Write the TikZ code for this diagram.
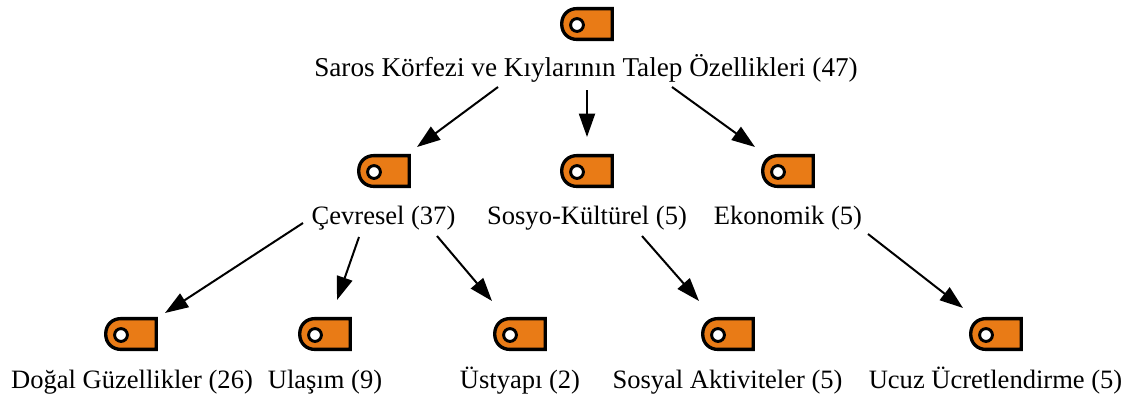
\documentclass[tikz,border=0pt]{standalone}
\usepackage{fontspec}
\setmainfont{Liberation Serif}
\usetikzlibrary{arrows.meta}
\definecolor{tagorange}{HTML}{E97B16}
\tikzset{
    label/.style={font=\fontsize{19.9}{22}\selectfont, inner sep=0pt, anchor=base},
    link/.style={line width=1.5pt, -{Triangle[length=17.5pt,width=12pt]}},
    tagicon/.pic={
        \draw[line width=2.5pt, fill=tagorange] (25.3,-15.4) -- (-10,-15.4)
            .. controls (-19,-15.4) and (-25.3,-9) .. (-25.3,0)
            .. controls (-25.3,9) and (-19,15.4) .. (-10,15.4)
            -- (25.3,15.4) -- cycle;
        \node[circle, draw, fill=white, line width=2.2pt, minimum size=9.6pt, inner sep=0pt] (-hole) at (-10,1) {};
    }
}
\begin{document}
\begin{tikzpicture}[x=0.75pt,y=-0.75pt]
    \useasboundingbox (0,0) rectangle (1131,401);

    \pic (root) at (587,24) {tagicon};
    \node[label, font=\fontsize{20.4}{22}\selectfont] (rootlabel) at (586,76) {Saros Körfezi ve Kıylarının Talep Özellikleri (47)};

    \pic (cevresel) at (384,171) {tagicon};
    \node[label] (cevresellabel) at (383.5,224) {Çevresel (37)};
    \pic (sosyo) at (587,171) {tagicon};
    \node[label] (sosyolabel) at (587,224) {Sosyo-Kültürel (5)};
    \pic (ekonomik) at (788,171) {tagicon};
    \node[label] (ekonomiklabel) at (788,224) {Ekonomik (5)};

    \pic (dogal) at (131,334) {tagicon};
    \node[label] (dogallabel) at (132,388) {Doğal Güzellikler (26)};
    \pic (ulasim) at (325,334) {tagicon};
    \node[label] (ulasimlabel) at (325,388) {Ulaşım (9)};
    \pic (ustyapi) at (520,334) {tagicon};
    \node[label] (ustyapilabel) at (520,388) {Üstyapı (2)};
    \pic (sosyal) at (728,334) {tagicon};
    \node[label] (sosyallabel) at (727.5,388) {Sosyal Aktiviteler (5)};
    \pic (ucuz) at (996,334) {tagicon};
    \node[label] (ucuzlabel) at (995.5,388) {Ucuz Ücretlendirme (5)};

    \draw[link] ([shift={(-88,11)}]rootlabel.base) -- ([shift={(43,-25)}]cevresel-hole.center);
    \draw[link] ([shift={(1,14)}]rootlabel.base) -- ([shift={(10,-35)}]sosyo-hole.center);
    \draw[link] ([shift={(86,11)}]rootlabel.base) -- ([shift={(-23,-25)}]ekonomik-hole.center);

    \draw[link] ([shift={(-80.5,-1)}]cevresellabel.base) -- ([shift={(44,-22)}]dogal-hole.center);
    \draw[link] ([shift={(-24.5,13)}]cevresellabel.base) -- ([shift={(22,-35)}]ulasim-hole.center);
    \draw[link] ([shift={(53.5,12)}]cevresellabel.base) -- ([shift={(-18,-34)}]ustyapi-hole.center);

    \draw[link] ([shift={(55,12)}]sosyolabel.base) -- ([shift={(-19,-34)}]sosyal-hole.center);
    \draw[link] ([shift={(80,10)}]ekonomiklabel.base) -- ([shift={(-23,-27)}]ucuz-hole.center);
\end{tikzpicture}
\end{document}
